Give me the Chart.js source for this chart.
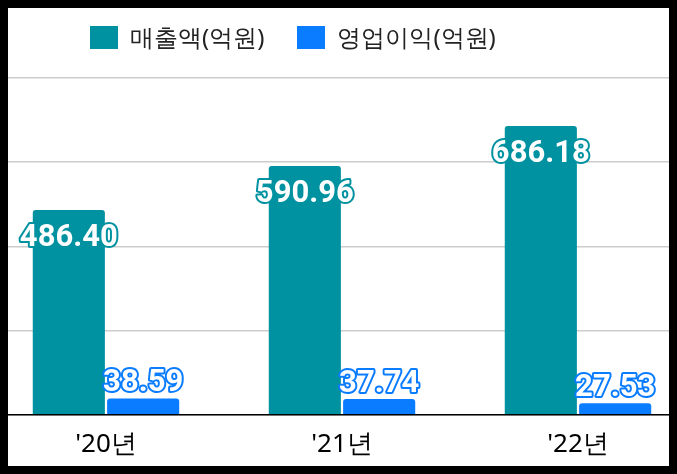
<!DOCTYPE html>
<html><head><meta charset="utf-8">
<script src="https://cdn.jsdelivr.net/npm/chart.js@4/dist/chart.umd.min.js"></script>
<style>
html,body{margin:0;padding:0;background:#000;}
#wrap{position:absolute;left:8px;top:8px;width:661px;height:458px;background:#fff;overflow:hidden;}
#inner{position:absolute;left:-20px;top:0;width:708px;height:458px;}
#legend{position:absolute;left:82px;top:12px;font:24px "Noto Sans",sans-serif;color:#222;display:flex;align-items:center;z-index:2;}
#legend span.b{display:inline-block;width:28px;height:23px;margin-right:12px;}
#legend span.t{margin-right:33px;}
</style></head><body>
<div id="wrap"><div id="legend"></div><div id="inner"><canvas id="c"></canvas></div></div>
<script>
const categories = ["'20년", "'21년", "'22년"];
const seriesNames = ['매출액(억원)', '영업이익(억원)'];
const sales = [486.40, 590.96, 686.18];
const profit = [38.59, 37.74, 27.53];
const colors = ['#0092a0', '#0a7cff'];
const lg = document.getElementById('legend');
seriesNames.forEach((n, i) => {
  const b = document.createElement('span'); b.className = 'b'; b.style.background = colors[i];
  const t = document.createElement('span'); t.className = 't'; t.textContent = n;
  lg.appendChild(b); lg.appendChild(t);
});
const labelPlugin = {
  id: 'vl',
  afterDatasetsDraw(chart) {
    const ctx = chart.ctx;
    ctx.save();
    ctx.font = 'bold 31px Roboto, sans-serif';
    ctx.textAlign = 'center'; ctx.textBaseline = 'middle';
    ctx.lineJoin = 'round';
    chart.data.datasets.forEach((ds, i) => {
      chart.getDatasetMeta(i).data.forEach((el, j) => {
        const h = el.base - el.y;
        const y = h > 60 ? el.y + 28 : el.y - 15;
        const t = ds.data[j].toFixed(2);
        ctx.lineWidth = 4; ctx.strokeStyle = colors[i];
        ctx.strokeText(t, el.x, y);
        ctx.fillStyle = '#fff'; ctx.fillText(t, el.x, y);
      });
    });
    ctx.restore();
  }
};
new Chart(document.getElementById('c'), {
  type: 'bar',
  data: { labels: categories, datasets: [
    { label: seriesNames[0], data: sales, backgroundColor: colors[0], borderRadius: 3 },
    { label: seriesNames[1], data: profit, backgroundColor: colors[1], borderRadius: 3 }
  ]},
  options: {
    responsive: true, maintainAspectRatio: false, animation: false,
    categoryPercentage: 0.63, barPercentage: 0.97,
    layout: { padding: { top: 70, left: 0, right: 0, bottom: 0 } },
    plugins: { tooltip: { enabled: false }, legend: { display: false } },
    scales: {
      y: { min: 0, max: 800, ticks: { stepSize: 200, display: false },
           grid: { color: '#ccc', lineWidth: 1.5, drawTicks: false }, border: { display: false } },
      x: { grid: { display: false }, border: { color: '#000', width: 1.5 },
           ticks: { color: '#000', font: { size: 26, family: '"Noto Sans", sans-serif' }, padding: 6 } }
    }
  },
  plugins: [labelPlugin]
});
</script></body></html>
